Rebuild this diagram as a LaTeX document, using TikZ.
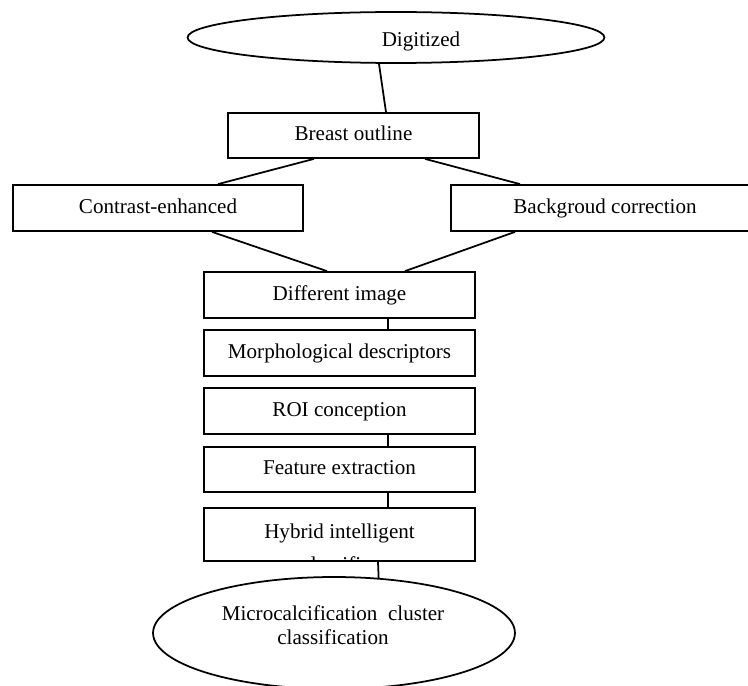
\documentclass[tikz,border=0pt]{standalone}
\usepackage{fontspec}
\setmainfont{Liberation Serif}
\usetikzlibrary{shapes.geometric}

\begin{document}
\begin{tikzpicture}[x=0.02cm,y=-0.02cm,line width=1pt,
  every node/.style={font=\fontsize{12}{14}\selectfont,inner sep=0pt},
  stage/.style={draw,rectangle,minimum width=5.42cm,minimum height=0.92cm,text height=8.5pt,text depth=2.5pt},
  oval/.style={draw,ellipse}]
\useasboundingbox (0,0) rectangle (748,686);
\node[oval,minimum width=8.34cm,minimum height=1.02cm] (digit) at (396,37.5) {};
\node (digittxt) at (421,41) {Digitized};
\node[stage,minimum width=5.02cm,minimum height=0.9cm] (breast) at (353.5,135.5) {Breast outline};
\node[stage,minimum width=5.8cm] (contrast) at (158,208) {Contrast-enhanced};
\node[stage,minimum width=6.16cm] (backgr) at (605,208) {Backgroud correction};
\node[stage] (diff) at (339.5,295) {Different image};
\node[stage] (morph) at (339.5,353) {Morphological descriptors};
\node[stage] (roi) at (339.5,411) {ROI conception};
\node[stage,minimum height=0.9cm] (feat) at (339.5,469.5) {Feature extraction};
\node[stage,minimum height=1.06cm,path picture={\node[align=center,text height={},text depth={}] (hybridtxt) at ([yshift=-0.27cm]path picture bounding box.center) {Hybrid intelligent\\[4.5pt]classifier};}] (hybrid) at (339.5,534.5) {};
\node[oval,minimum width=7.24cm,minimum height=2.24cm] (micro) at (334,633) {};
\node[align=center] (microtxt) at (333,625) {Microcalcification\ \ cluster\\classification};

\draw ([xshift=-0.34cm]digit.south) -- ([xshift=0.65cm]breast.north);
\draw ([xshift=-0.79cm]breast.south) -- ([xshift=1.2cm]contrast.north);
\draw ([xshift=1.43cm]breast.south) -- ([xshift=-1.7cm]backgr.north);
\draw ([xshift=1.08cm]contrast.south) -- ([xshift=-0.25cm]diff.north);
\draw ([xshift=-1.8cm]backgr.south) -- ([xshift=1.31cm]diff.north);
\draw ([xshift=0.97cm]diff.south) -- ([xshift=0.97cm]morph.north);
\draw ([xshift=0.97cm]roi.south) -- ([xshift=0.97cm]feat.north);
\draw ([xshift=0.97cm]feat.south) -- ([xshift=0.97cm]hybrid.north);
\draw ([xshift=0.77cm]hybrid.south) -- (micro.51);

\end{tikzpicture}
\end{document}
